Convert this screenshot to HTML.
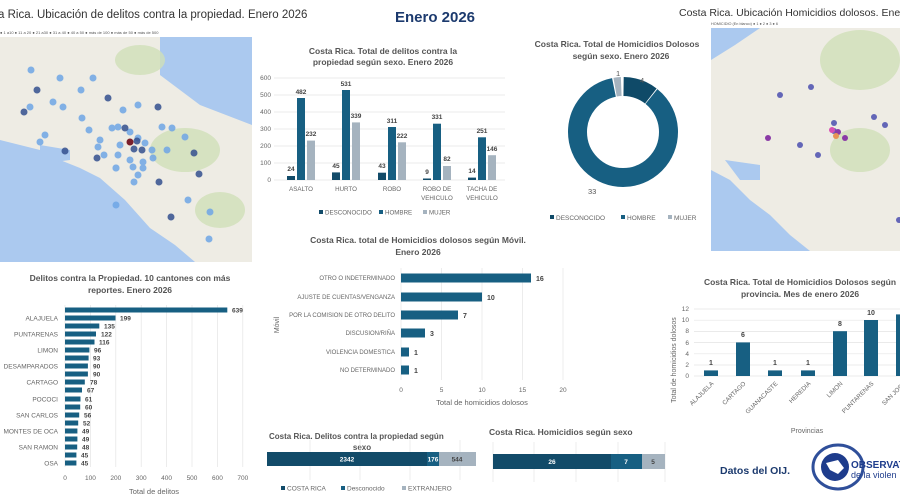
<!DOCTYPE html>
<html><head><meta charset="utf-8"><style>
html,body{margin:0;padding:0;background:#fff;}
svg{display:block;font-family:"Liberation Sans",sans-serif;}
</style></head><body>
<svg width="900" height="500" viewBox="0 0 900 500" xmlns="http://www.w3.org/2000/svg">
<rect width="900" height="500" fill="#fff"/>
<!-- Map 1 -->
<text x="-2" y="18" font-size="11.5" fill="#333">a Rica. Ubicación de delitos contra la propiedad. Enero 2026</text>
<text x="0" y="34" font-size="4" fill="#555">● 1 a10 ● 11 a 20 ● 21 a30 ● 31 a 40 ● 40 a 50 ● más de 100 ● más de 50 ● más de 500</text>
<rect x="0" y="37" width="252" height="225" fill="#abc9ef"/>
<polygon points="0,37 160,37 160,75 200,105 252,125 252,262 195,262 175,245 150,228 125,200 100,178 80,168 60,160 40,150 20,145 0,140" fill="#eeece4"/>
<polygon points="40,145 70,150 70,160 55,162 40,155" fill="#abc9ef"/>
<ellipse cx="185" cy="150" rx="35" ry="22" fill="#cfe0b8" opacity=".8"/>
<ellipse cx="140" cy="60" rx="25" ry="15" fill="#cfe0b8" opacity=".8"/>
<ellipse cx="220" cy="210" rx="25" ry="18" fill="#cfe0b8" opacity=".8"/>
<g fill="#6fa6e6" opacity=".85">
<circle cx="31" cy="70" r="3.5"/><circle cx="60" cy="78" r="3.5"/><circle cx="93" cy="78" r="3.5"/><circle cx="81" cy="90" r="3.5"/><circle cx="53" cy="102" r="3.5"/><circle cx="30" cy="107" r="3.5"/><circle cx="63" cy="107" r="3.5"/><circle cx="82" cy="118" r="3.5"/><circle cx="123" cy="110" r="3.5"/><circle cx="138" cy="105" r="3.5"/><circle cx="89" cy="130" r="3.5"/><circle cx="112" cy="128" r="3.5"/><circle cx="118" cy="127" r="3.5"/><circle cx="130" cy="132" r="3.5"/><circle cx="138" cy="138" r="3.5"/><circle cx="100" cy="140" r="3.5"/><circle cx="120" cy="145" r="3.5"/><circle cx="98" cy="147" r="3.5"/><circle cx="145" cy="143" r="3.5"/><circle cx="152" cy="150" r="3.5"/><circle cx="162" cy="127" r="3.5"/><circle cx="172" cy="128" r="3.5"/><circle cx="185" cy="137" r="3.5"/><circle cx="104" cy="155" r="3.5"/><circle cx="118" cy="155" r="3.5"/><circle cx="130" cy="160" r="3.5"/><circle cx="143" cy="162" r="3.5"/><circle cx="153" cy="158" r="3.5"/><circle cx="167" cy="150" r="3.5"/><circle cx="116" cy="168" r="3.5"/><circle cx="133" cy="167" r="3.5"/><circle cx="143" cy="168" r="3.5"/><circle cx="134" cy="182" r="3.5"/><circle cx="116" cy="168" r="3.5"/><circle cx="188" cy="200" r="3.5"/><circle cx="210" cy="212" r="3.5"/><circle cx="116" cy="205" r="3.5"/><circle cx="45" cy="135" r="3.5"/><circle cx="40" cy="142" r="3.5"/><circle cx="209" cy="239" r="3.5"/><circle cx="138" cy="175" r="3.5"/></g>
<g fill="#34508f" opacity=".85">
<circle cx="37" cy="90" r="3.5"/><circle cx="24" cy="112" r="3.5"/><circle cx="65" cy="151" r="3.5"/><circle cx="108" cy="98" r="3.5"/><circle cx="125" cy="128" r="3.5"/><circle cx="97" cy="158" r="3.5"/><circle cx="134" cy="149" r="3.5"/><circle cx="142" cy="150" r="3.5"/><circle cx="158" cy="107" r="3.5"/><circle cx="194" cy="153" r="3.5"/><circle cx="199" cy="174" r="3.5"/><circle cx="159" cy="182" r="3.5"/><circle cx="171" cy="217" r="3.5"/><circle cx="137" cy="141" r="3.5"/></g>
<circle cx="130" cy="142" r="3.5" fill="#7a1f2b"/>
<!-- Title -->
<text x="435" y="22" font-size="15" font-weight="bold" fill="#1c3a6e" text-anchor="middle">Enero 2026</text>
<!-- Property by sex chart -->
<text x="383" y="54" font-size="8.5" font-weight="bold" fill="#555" text-anchor="middle">Costa Rica. Total de delitos contra la</text>
<text x="383" y="65" font-size="8.5" font-weight="bold" fill="#555" text-anchor="middle">propiedad según sexo. Enero 2026</text>
<g stroke="#e4e4e4" stroke-width="0.7">
<line x1="274" y1="78" x2="505" y2="78"/><line x1="274" y1="95" x2="505" y2="95"/><line x1="274" y1="112" x2="505" y2="112"/><line x1="274" y1="129" x2="505" y2="129"/><line x1="274" y1="146" x2="505" y2="146"/><line x1="274" y1="163" x2="505" y2="163"/><line x1="274" y1="180" x2="505" y2="180"/></g>
<g font-size="6.5" fill="#666" text-anchor="end">
<text x="271" y="80">600</text><text x="271" y="97">500</text><text x="271" y="114">400</text><text x="271" y="131">300</text><text x="271" y="148">200</text><text x="271" y="165">100</text><text x="271" y="182">0</text></g>
<g fill="#124b69">
<rect x="287" y="176" width="8" height="4"/><rect x="332" y="172.4" width="8" height="7.6"/><rect x="378" y="172.7" width="8" height="7.3"/><rect x="423" y="178.5" width="8" height="1.5"/><rect x="468" y="177.6" width="8" height="2.4"/></g>
<g fill="#175f82">
<rect x="297" y="98" width="8" height="82"/><rect x="342" y="90" width="8" height="90"/><rect x="388" y="127" width="8" height="53"/><rect x="433" y="123.7" width="8" height="56.3"/><rect x="478" y="137.3" width="8" height="42.7"/></g>
<g fill="#a5b3bf">
<rect x="307" y="140.6" width="8" height="39.4"/><rect x="352" y="122.4" width="8" height="57.6"/><rect x="398" y="142.3" width="8" height="37.7"/><rect x="443" y="166" width="8" height="14"/><rect x="488" y="155.2" width="8" height="24.8"/></g>
<g font-size="6.5" font-weight="bold" fill="#444" text-anchor="middle">
<text x="291" y="171">24</text><text x="301" y="94">482</text><text x="311" y="136">232</text>
<text x="336" y="168">45</text><text x="346" y="86">531</text><text x="356" y="118">339</text>
<text x="382" y="168">43</text><text x="392" y="123">311</text><text x="402" y="138">222</text>
<text x="427" y="174">9</text><text x="437" y="119">331</text><text x="447" y="161">82</text>
<text x="472" y="173">14</text><text x="482" y="133">251</text><text x="492" y="151">146</text></g>
<g font-size="6.2" fill="#666" text-anchor="middle">
<text x="301" y="191">ASALTO</text><text x="346" y="191">HURTO</text><text x="392" y="191">ROBO</text><text x="437" y="191">ROBO DE</text><text x="437" y="200">VEHICULO</text><text x="482" y="191">TACHA DE</text><text x="482" y="200">VEHICULO</text></g>
<g font-size="6.2" fill="#666">
<rect x="319" y="210" width="4" height="4" fill="#124b69"/><text x="325" y="214.5">DESCONOCIDO</text>
<rect x="379" y="210" width="4" height="4" fill="#175f82"/><text x="385" y="214.5">HOMBRE</text>
<rect x="423" y="210" width="4" height="4" fill="#a5b3bf"/><text x="429" y="214.5">MUJER</text></g>
<!-- Donut -->
<text x="617" y="47" font-size="8.5" font-weight="bold" fill="#555" text-anchor="middle">Costa Rica. Total de Homicidios Dolosos</text>
<text x="621" y="59" font-size="8.5" font-weight="bold" fill="#555" text-anchor="middle">según sexo. Enero 2026</text>
<g transform="rotate(-90 623 132)" fill="none" stroke-width="19">
<circle cx="623" cy="132" r="45.5" stroke="#0f4a68" stroke-dasharray="29.3 300" stroke-dashoffset="-0.6"/>
<circle cx="623" cy="132" r="45.5" stroke="#175f82" stroke-dasharray="245.6 300" stroke-dashoffset="-30.7"/>
<circle cx="623" cy="132" r="45.5" stroke="#a5b3bf" stroke-dasharray="6.1 300" stroke-dashoffset="-277.5"/>
</g>
<text x="616" y="76" font-size="7.5" fill="#555">1</text>
<text x="640" y="83" font-size="7.5" fill="#555">4</text>
<text x="588" y="194" font-size="7.5" fill="#555">33</text>
<g font-size="6.5" fill="#666">
<rect x="550" y="215" width="4" height="4" fill="#0f4a68"/><text x="556" y="220">DESCONOCIDO</text>
<rect x="621" y="215" width="4" height="4" fill="#175f82"/><text x="627" y="220">HOMBRE</text>
<rect x="668" y="215" width="4" height="4" fill="#a5b3bf"/><text x="674" y="220">MUJER</text></g>
<!-- Map 2 -->
<text x="679" y="16" font-size="10.5" fill="#333">Costa Rica. Ubicación Homicidios dolosos. Enero 2026</text>
<text x="711" y="25" font-size="3.8" fill="#555">HOMICIDIO   (En blanco) ● 1 ● 2 ● 3 ● 6</text>
<rect x="711" y="28" width="189" height="223" fill="#abc9ef"/>
<polygon points="711,60 735,45 760,28 900,28 900,251 810,251 790,235 770,215 750,200 730,180 711,170" fill="#eeece4"/>
<polygon points="725,160 760,165 760,180 740,180" fill="#abc9ef"/>
<ellipse cx="860" cy="60" rx="40" ry="30" fill="#cfe0b8" opacity=".8"/>
<ellipse cx="860" cy="150" rx="30" ry="22" fill="#cfe0b8" opacity=".8"/>
<g fill="#4b4fb0" opacity=".85"><circle cx="811" cy="87" r="3"/><circle cx="780" cy="95" r="3"/><circle cx="874" cy="117" r="3"/><circle cx="885" cy="125" r="3"/><circle cx="834" cy="123" r="3"/><circle cx="800" cy="145" r="3"/><circle cx="818" cy="155" r="3"/><circle cx="899" cy="220" r="3"/><circle cx="834" cy="131" r="3"/></g>
<g fill="#8a3aa6"><circle cx="768" cy="138" r="3"/><circle cx="845" cy="138" r="3"/><circle cx="838" cy="132" r="3"/></g>
<circle cx="832" cy="130" r="3" fill="#d94fb3"/><circle cx="836" cy="136" r="3" fill="#e89455"/>
<!-- Cantones -->
<text x="130" y="281" font-size="8.5" font-weight="bold" fill="#555" text-anchor="middle">Delitos contra la Propiedad. 10 cantones con más</text>
<text x="130" y="293" font-size="8.5" font-weight="bold" fill="#555" text-anchor="middle">reportes. Enero 2026</text>
<g stroke="#e4e4e4" stroke-width="0.7">
<line x1="65" y1="305" x2="65" y2="467"/><line x1="90.4" y1="305" x2="90.4" y2="467"/><line x1="115.8" y1="305" x2="115.8" y2="467"/><line x1="141.2" y1="305" x2="141.2" y2="467"/><line x1="166.6" y1="305" x2="166.6" y2="467"/><line x1="192" y1="305" x2="192" y2="467"/><line x1="217.4" y1="305" x2="217.4" y2="467"/><line x1="242.8" y1="305" x2="242.8" y2="467"/></g>
<g fill="#175f82">
<rect x="65" y="307.5" width="162.3" height="5"/><rect x="65" y="315.5" width="50.5" height="5"/><rect x="65" y="323.5" width="34.3" height="5"/><rect x="65" y="331.5" width="31" height="5"/><rect x="65" y="339.5" width="29.5" height="5"/><rect x="65" y="347.5" width="24.4" height="5"/><rect x="65" y="355.5" width="23.6" height="5"/><rect x="65" y="363.5" width="22.9" height="5"/><rect x="65" y="371.5" width="22.9" height="5"/><rect x="65" y="379.5" width="19.8" height="5"/><rect x="65" y="387.5" width="17" height="5"/><rect x="65" y="396.5" width="15.5" height="5"/><rect x="65" y="404.5" width="15.2" height="5"/><rect x="65" y="412.5" width="14.2" height="5"/><rect x="65" y="420.5" width="13.2" height="5"/><rect x="65" y="428.5" width="12.4" height="5"/><rect x="65" y="436.5" width="12.4" height="5"/><rect x="65" y="444.5" width="12.2" height="5"/><rect x="65" y="452.5" width="11.4" height="5"/><rect x="65" y="460.5" width="11.4" height="5"/></g>
<g font-size="6.5" font-weight="bold" fill="#444">
<text x="232" y="312.5">639</text><text x="120" y="320.5">199</text><text x="104" y="328.5">135</text><text x="101" y="336.5">122</text><text x="99" y="344.5">116</text><text x="94" y="352.5">96</text><text x="93" y="360.5">93</text><text x="93" y="368.5">90</text><text x="93" y="376.5">90</text><text x="90" y="384.5">78</text><text x="87" y="392.5">67</text><text x="85" y="401.5">61</text><text x="85" y="409.5">60</text><text x="84" y="417.5">56</text><text x="83" y="425.5">52</text><text x="82" y="433.5">49</text><text x="82" y="441.5">49</text><text x="82" y="449.5">48</text><text x="81" y="457.5">45</text><text x="81" y="465.5">45</text></g>
<g font-size="6.5" fill="#666" text-anchor="end">
<text x="58" y="320.5">ALAJUELA</text><text x="58" y="336.5">PUNTARENAS</text><text x="58" y="352.5">LIMON</text><text x="58" y="368.5">DESAMPARADOS</text><text x="58" y="384.5">CARTAGO</text><text x="58" y="401.5">POCOCI</text><text x="58" y="417.5">SAN CARLOS</text><text x="58" y="433.5">MONTES DE OCA</text><text x="58" y="449.5">SAN RAMON</text><text x="58" y="465.5">OSA</text></g>
<g font-size="6.5" fill="#666" text-anchor="middle">
<text x="65" y="480">0</text><text x="90.4" y="480">100</text><text x="115.8" y="480">200</text><text x="141.2" y="480">300</text><text x="166.6" y="480">400</text><text x="192" y="480">500</text><text x="217.4" y="480">600</text><text x="242.8" y="480">700</text></g>
<text x="154" y="494" font-size="7.5" fill="#666" text-anchor="middle">Total de delitos</text>
<!-- Movil -->
<text x="418" y="243" font-size="8.5" font-weight="bold" fill="#555" text-anchor="middle">Costa Rica. total de Homicidios dolosos según Móvil.</text>
<text x="418" y="255" font-size="8.5" font-weight="bold" fill="#555" text-anchor="middle">Enero 2026</text>
<g stroke="#e4e4e4" stroke-width="0.7">
<line x1="401" y1="268" x2="401" y2="380"/><line x1="441.5" y1="268" x2="441.5" y2="380"/><line x1="482" y1="268" x2="482" y2="380"/><line x1="522.5" y1="268" x2="522.5" y2="380"/><line x1="563" y1="268" x2="563" y2="380"/></g>
<g fill="#175f82">
<rect x="401" y="273.5" width="130" height="9"/><rect x="401" y="292.5" width="81" height="9"/><rect x="401" y="310.5" width="57" height="9"/><rect x="401" y="328.5" width="24" height="9"/><rect x="401" y="347.5" width="8" height="9"/><rect x="401" y="365.5" width="8" height="9"/></g>
<g font-size="7" font-weight="bold" fill="#444">
<text x="536" y="281">16</text><text x="487" y="300">10</text><text x="463" y="318">7</text><text x="430" y="336">3</text><text x="414" y="355">1</text><text x="414" y="373">1</text></g>
<g font-size="6" fill="#666" text-anchor="end">
<text x="395" y="280">OTRO O INDETERMINADO</text><text x="395" y="299">AJUSTE DE CUENTAS/VENGANZA</text><text x="395" y="317">POR LA COMISION DE OTRO DELITO</text><text x="395" y="335">DISCUSION/RIÑA</text><text x="395" y="354">VIOLENCIA DOMESTICA</text><text x="395" y="372">NO DETERMINADO</text></g>
<g font-size="6.5" fill="#666" text-anchor="middle">
<text x="401" y="392">0</text><text x="441.5" y="392">5</text><text x="482" y="392">10</text><text x="522.5" y="392">15</text><text x="563" y="392">20</text></g>
<text x="482" y="405" font-size="7.5" fill="#666" text-anchor="middle">Total de homicidios dolosos</text>
<text x="279" y="325" font-size="7" fill="#666" text-anchor="middle" transform="rotate(-90 279 325)">Móvil</text>
<!-- Provincia -->
<text x="800" y="285" font-size="8.5" font-weight="bold" fill="#555" text-anchor="middle">Costa Rica. Total de Homicidios Dolosos según</text>
<text x="800" y="297" font-size="8.5" font-weight="bold" fill="#555" text-anchor="middle">provincia. Mes de enero 2026</text>
<g stroke="#e4e4e4" stroke-width="0.7">
<line x1="694" y1="309" x2="900" y2="309"/><line x1="694" y1="320.2" x2="900" y2="320.2"/><line x1="694" y1="331.4" x2="900" y2="331.4"/><line x1="694" y1="342.6" x2="900" y2="342.6"/><line x1="694" y1="353.8" x2="900" y2="353.8"/><line x1="694" y1="365" x2="900" y2="365"/><line x1="694" y1="376" x2="900" y2="376"/></g>
<g font-size="6.5" fill="#666" text-anchor="end">
<text x="689" y="311">12</text><text x="689" y="322">10</text><text x="689" y="333">8</text><text x="689" y="345">6</text><text x="689" y="356">4</text><text x="689" y="367">2</text><text x="689" y="378">0</text></g>
<g fill="#175f82">
<rect x="704" y="370.4" width="14" height="5.6"/><rect x="736" y="342.4" width="14" height="33.6"/><rect x="768" y="370.4" width="14" height="5.6"/><rect x="801" y="370.4" width="14" height="5.6"/><rect x="833" y="331.2" width="14" height="44.8"/><rect x="864" y="320" width="14" height="56"/><rect x="896" y="314.4" width="14" height="61.6"/></g>
<g font-size="7" font-weight="bold" fill="#444" text-anchor="middle">
<text x="711" y="365">1</text><text x="743" y="337">6</text><text x="775" y="365">1</text><text x="808" y="365">1</text><text x="840" y="326">8</text><text x="871" y="315">10</text></g>
<g font-size="6.2" fill="#666" text-anchor="end">
<text transform="translate(714,384) rotate(-45)">ALAJUELA</text><text transform="translate(746,384) rotate(-45)">CARTAGO</text><text transform="translate(778,384) rotate(-45)">GUANACASTE</text><text transform="translate(811,384) rotate(-45)">HEREDIA</text><text transform="translate(843,384) rotate(-45)">LIMON</text><text transform="translate(874,384) rotate(-45)">PUNTARENAS</text><text transform="translate(906,384) rotate(-45)">SAN JOSE</text></g>
<text x="807" y="433" font-size="7" fill="#666" text-anchor="middle">Provincias</text>
<text x="676" y="360" font-size="7" fill="#666" text-anchor="middle" transform="rotate(-90 676 360)">Total de homicidios dolosos</text>
<!-- Stacked 1 -->
<text x="269" y="439" font-size="8" font-weight="bold" fill="#555">Costa Rica. Delitos contra la propiedad según</text>
<text x="362" y="450" font-size="8" font-weight="bold" fill="#555" text-anchor="middle">sexo</text>
<g stroke="#e4e4e4" stroke-width="0.7"><line x1="310" y1="440" x2="310" y2="480"/><line x1="360" y1="440" x2="360" y2="480"/><line x1="410" y1="440" x2="410" y2="480"/><line x1="460" y1="440" x2="460" y2="480"/></g>
<rect x="267" y="452" width="160" height="14" fill="#124b69"/>
<rect x="427" y="452" width="12" height="14" fill="#175f82"/>
<rect x="439" y="452" width="37" height="14" fill="#a5b3bf"/>
<g font-size="6.5" font-weight="bold" text-anchor="middle"><text x="347" y="461.5" fill="#fff">2342</text><text x="433" y="461.5" fill="#fff">176</text><text x="457" y="461.5" fill="#444">544</text></g>
<g font-size="6.5" fill="#666">
<rect x="281" y="486" width="4" height="4" fill="#124b69"/><text x="287" y="490.5">COSTA RICA</text>
<rect x="341" y="486" width="4" height="4" fill="#175f82"/><text x="347" y="490.5">Desconocido</text>
<rect x="402" y="486" width="4" height="4" fill="#a5b3bf"/><text x="408" y="490.5">EXTRANJERO</text></g>
<!-- Stacked 2 -->
<text x="489" y="435" font-size="8.5" font-weight="bold" fill="#555">Costa Rica. Homicidios según sexo</text>
<g stroke="#e4e4e4" stroke-width="0.7"><line x1="493" y1="442" x2="493" y2="482"/><line x1="534" y1="442" x2="534" y2="482"/><line x1="576" y1="442" x2="576" y2="482"/><line x1="618" y1="442" x2="618" y2="482"/><line x1="665" y1="442" x2="665" y2="482"/></g>
<rect x="493" y="454" width="118" height="15" fill="#124b69"/>
<rect x="611" y="454" width="31" height="15" fill="#175f82"/>
<rect x="642" y="454" width="23" height="15" fill="#a5b3bf"/>
<g font-size="6.5" font-weight="bold" text-anchor="middle"><text x="552" y="464" fill="#fff">26</text><text x="626" y="464" fill="#fff">7</text><text x="653" y="464" fill="#444">5</text></g>
<!-- Footer -->
<text x="755" y="474" font-size="10.5" font-weight="bold" fill="#1c3a6e" text-anchor="middle">Datos del OIJ.</text>
<ellipse cx="838" cy="467" rx="25" ry="22" fill="none" stroke="#2f4f9a" stroke-width="3"/>
<circle cx="835" cy="467" r="14" fill="#1e3c8c"/>
<path d="M826,463 L838,460 L844,468 L838,474 L830,470 Z" fill="#fff"/>
<text x="851" y="468" font-size="10" font-weight="bold" fill="#1e3c8c">OBSERVAT</text>
<text x="851" y="478" font-size="9" fill="#1e3c8c">de la violen</text>
</svg>
</body></html>
